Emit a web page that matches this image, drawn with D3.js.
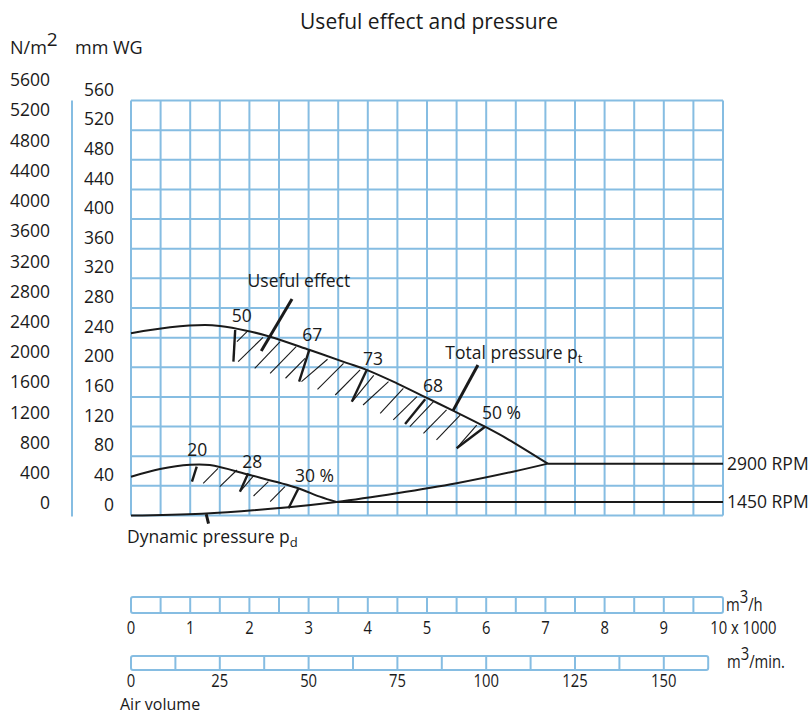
<!DOCTYPE html>
<html><head><meta charset="utf-8">
<script src="https://cdn.jsdelivr.net/npm/d3@7"></script>
<style>
html,body{margin:0;padding:0;background:#fff;}
svg{display:block;font-family:"Open Sans","Noto Sans",sans-serif;}
</style></head>
<body>
<svg id="c" width="811" height="716"></svg>
<script>
// ---------- data ----------
const title = "Useful effect and pressure";
const flowTicksH = [0,1,2,3,4,5,6,7,8,9,10];          // x 1000 m3/h
const flowTicksMin = [0,25,50,75,100,125,150];          // m3/min
const pressureWG = [0,40,80,120,160,200,240,280,320,360,400,440,480,520,560];
const pressureN = [0,400,800,1200,1600,2000,2400,2800,3200,3600,4000,4400,4800,5200,5600];

// total pressure curve, 2900 RPM  [flow (1000 m3/h), mm WG]
const total2900 = [[0,246],[0.66,254],[1.25,257],[1.5,255.7],[1.95,249.4],[2.35,241.3],[3.02,223.3],
  [3.64,206],[3.98,196.5],[4.49,178.4],[4.99,159],[5.44,141.5],[5.98,119.8],[6.37,102.8],[7.04,70]];
const rpm2900 = [[7.04,70],[10,70]];
// total pressure curve, 1450 RPM
const total1450 = [[0,52.4],[0.49,62.8],[1.0,68.5],[1.33,68.1],[2.01,54.6],[2.8,37.5],[3.19,25.4],[3.47,18.2]];
const rpm1450 = [[3.47,18.2],[10,18.2]];
// dynamic pressure curve
const dynamic = [[0,0],[1.2,2.5],[2.66,11.2],[3.47,18.2],[4.49,30],[5.5,43.5],[6.45,59.1],[7.04,70]];

// hatch (useful-effect band) thin strokes [x1,y1,x2,y2]
const hatchThin = [
 [1.79,234.5,1.96,248],[1.81,207.6,2.23,240.5],[2.09,198.6,2.52,234.5],[2.35,191.9,2.79,227.8],
 [2.61,185.2,2.94,212.1],[2.88,180.6,3.32,210.8],[3.15,170.3,3.59,205.4],[3.45,162.6,3.87,196.4],
 [3.75,155,4.1,189],[3.92,149.1,4.35,180.6],[4.21,137.9,4.6,171.7],[4.43,128.9,4.83,160.3],
 [4.71,119.8,5.11,153.6],[4.94,110.9,5.33,142.4],[5.16,101.9,5.56,135.6],[5.52,92.5,5.84,122],
 // lower band
 [1.22,43.5,1.47,63.7],[1.5,38.9,1.79,61.4],[1.86,34,2.08,54.5],[2.07,26.3,2.32,45.6],[2.35,18.6,2.6,38.9]
];
// efficiency marks (thick strokes)
const hatchThick = [
 [1.73,207.6,1.76,250.3],[2.84,180.6,3.01,223.3],[3.73,153.6,3.98,196],[4.63,123.5,4.97,156.8],[5.5,90.7,5.98,119.8],
 [1.03,45.6,1.11,65.9],[1.84,32.1,1.98,56.9],[2.66,9.7,2.83,36.7]
];
// leader lines
const leaders = [[2.2,222,2.72,292],[5.44,141.5,5.86,203],[1.27,2,1.31,-11]];

// efficiency labels [x, y, text]
const effLabels = [[1.87,270,"50"],[3.06,244,"67"],[4.09,212,"73"],[5.1,175,"68"],[6.26,139,"50 %"],
  [1.12,88,"20"],[2.05,73,"28"],[3.1,53,"30 %"]];

// ---------- drawing ----------
const svg = d3.select("#c");
const x = d3.scaleLinear().domain([0,10]).range([131,723]);
const y = d3.scaleLinear().domain([0,560]).range([515.5,100.5]);
const yN = d3.scaleLinear().domain([0,5600]).range([503.3,80]);
const xMin = d3.scaleLinear().domain([0,162.5]).range([131,708.2]);

const blue = "#86bde2";
const ink = "#1a1a1a";
const fs = 17.5;

// title
svg.append("text").attr("x",429).attr("y",29).attr("text-anchor","middle")
  .attr("font-size",21).attr("fill",ink).text(title);

// unit headers
const hn = svg.append("text").attr("x",10).attr("y",54).attr("font-size",18).attr("fill",ink);
hn.append("tspan").text("N/m");
hn.append("tspan").attr("dy",-8).attr("font-size",19).text("2");
svg.append("text").attr("x",75).attr("y",54).attr("font-size",18).attr("fill",ink).text("mm WG");

// y labels
svg.append("g").selectAll("text").data(pressureN).join("text")
  .attr("x",50).attr("y",d=>yN(d)).attr("dy","0.35em").attr("text-anchor","end")
  .attr("font-size",fs).attr("fill",ink).text(d=>d);
svg.append("g").selectAll("text").data(pressureWG).join("text")
  .attr("x",114).attr("y",d=>y(d)-11).attr("dy","0.35em").attr("text-anchor","end")
  .attr("font-size",fs).attr("fill",ink).text(d=>d);

// left axis line
svg.append("line").attr("x1",72).attr("x2",72).attr("y1",y(560)).attr("y2",y(0)+1)
  .attr("stroke",blue).attr("stroke-width",2);

// grid
const gx = d3.range(0,10.001,0.5);
const g = svg.append("g").attr("stroke",blue).attr("stroke-width",2).attr("fill","none");
g.selectAll("line.v").data(gx).join("line").attr("class","v")
  .attr("x1",d=>x(d)).attr("x2",d=>x(d)).attr("y1",y(560)).attr("y2",y(0));
g.selectAll("line.h").data(pressureWG).join("line").attr("class","h")
  .attr("x1",x(0)).attr("x2",x(10)).attr("y1",d=>y(d)).attr("y2",d=>y(d));

// curves
const line = d3.line().x(d=>x(d[0])).y(d=>y(d[1])).curve(d3.curveCatmullRom.alpha(0.5));
const straight = d3.line().x(d=>x(d[0])).y(d=>y(d[1]));
const cg = svg.append("g").attr("fill","none").attr("stroke",ink).attr("stroke-width",2);
cg.append("path").attr("d",line(total2900));
cg.append("path").attr("d",straight(rpm2900));
cg.append("path").attr("d",line(total1450));
cg.append("path").attr("d",straight(rpm1450));
cg.append("path").attr("d",line(dynamic));

// hatch
svg.append("g").attr("stroke",ink).attr("stroke-width",1.1).selectAll("line").data(hatchThin).join("line")
  .attr("x1",d=>x(d[0])).attr("y1",d=>y(d[1])).attr("x2",d=>x(d[2])).attr("y2",d=>y(d[3]));
svg.append("g").attr("stroke",ink).attr("stroke-width",2.4).selectAll("line").data(hatchThick).join("line")
  .attr("x1",d=>x(d[0])).attr("y1",d=>y(d[1])).attr("x2",d=>x(d[2])).attr("y2",d=>y(d[3]));
svg.append("g").attr("stroke",ink).attr("stroke-width",3).selectAll("line").data(leaders).join("line")
  .attr("x1",d=>x(d[0])).attr("y1",d=>y(d[1])).attr("x2",d=>x(d[2])).attr("y2",d=>y(d[3]));

// labels on chart
svg.append("g").selectAll("text").data(effLabels).join("text")
  .attr("x",d=>x(d[0])).attr("y",d=>y(d[1])).attr("dy","0.35em").attr("text-anchor","middle")
  .attr("font-size",fs).attr("fill",ink).text(d=>d[2]);

svg.append("text").attr("x",x(1.97)).attr("y",y(316)).attr("dy","0.35em")
  .attr("font-size",fs).attr("fill",ink).text("Useful effect");
const tp = svg.append("text").attr("x",x(5.31)).attr("y",y(220)).attr("dy","0.35em")
  .attr("font-size",fs).attr("fill",ink);
tp.append("tspan").text("Total pressure p");
tp.append("tspan").attr("font-size",13).attr("dy",4).text("t");
const dp = svg.append("text").attr("x",127).attr("y",537).attr("dy","0.35em")
  .attr("font-size",fs).attr("fill",ink);
dp.append("tspan").text("Dynamic pressure p");
dp.append("tspan").attr("font-size",13).attr("dy",4).text("d");

svg.append("text").attr("x",727).attr("y",y(70)).attr("dy","0.35em").attr("font-size",fs).attr("fill",ink).text("2900 RPM");
svg.append("text").attr("x",727).attr("y",y(18.2)).attr("dy","0.35em").attr("font-size",fs).attr("fill",ink).text("1450 RPM");

// bottom scale bars
const bfs = 18.5;
const b1 = svg.append("g");
b1.append("rect").attr("x",x(0)).attr("y",597).attr("width",x(10)-x(0)).attr("height",16)
  .attr("rx",2).attr("fill","none").attr("stroke",blue).attr("stroke-width",2);
b1.selectAll("line").data(gx.slice(1,-1)).join("line")
  .attr("x1",d=>x(d)).attr("x2",d=>x(d)).attr("y1",597).attr("y2",613).attr("stroke",blue).attr("stroke-width",2);
const cond = 0.8;
b1.selectAll("text").data(flowTicksH).join("text")
  .attr("transform",d=>`translate(${x(d)},628) scale(${cond},1)`)
  .attr("dy","0.35em").attr("text-anchor",d=>d===10?"start":"middle")
  .attr("dx",d=>d===10?-16:0)
  .attr("font-size",bfs).attr("fill",ink).text(d=>d===10?"10 x 1000":d);
const u1 = svg.append("text").attr("transform",`translate(726,611) scale(${cond},1)`).attr("font-size",bfs).attr("fill",ink);
u1.append("tspan").text("m");
u1.append("tspan").attr("dy",-8).text("3");
u1.append("tspan").attr("dy",8).text("/h");

const minCells = d3.range(12.5,162.5,12.5);
const b2 = svg.append("g");
b2.append("rect").attr("x",xMin(0)).attr("y",656).attr("width",xMin(162.5)-xMin(0)).attr("height",14)
  .attr("rx",2).attr("fill","none").attr("stroke",blue).attr("stroke-width",2);
b2.selectAll("line").data(minCells).join("line")
  .attr("x1",d=>xMin(d)).attr("x2",d=>xMin(d)).attr("y1",656).attr("y2",670).attr("stroke",blue).attr("stroke-width",2);
b2.selectAll("text").data(flowTicksMin).join("text")
  .attr("transform",d=>`translate(${xMin(d)},681) scale(${cond},1)`)
  .attr("dy","0.35em").attr("text-anchor","middle")
  .attr("font-size",bfs).attr("fill",ink).text(d=>d);
const u2 = svg.append("text").attr("transform",`translate(727,668) scale(${cond},1)`).attr("font-size",bfs).attr("fill",ink);
u2.append("tspan").text("m");
u2.append("tspan").attr("dy",-8).text("3");
u2.append("tspan").attr("dy",8).text("/min.");
svg.append("text").attr("x",120).attr("y",710).attr("font-size",16).attr("fill",ink).text("Air volume");
</script>
</body></html>
